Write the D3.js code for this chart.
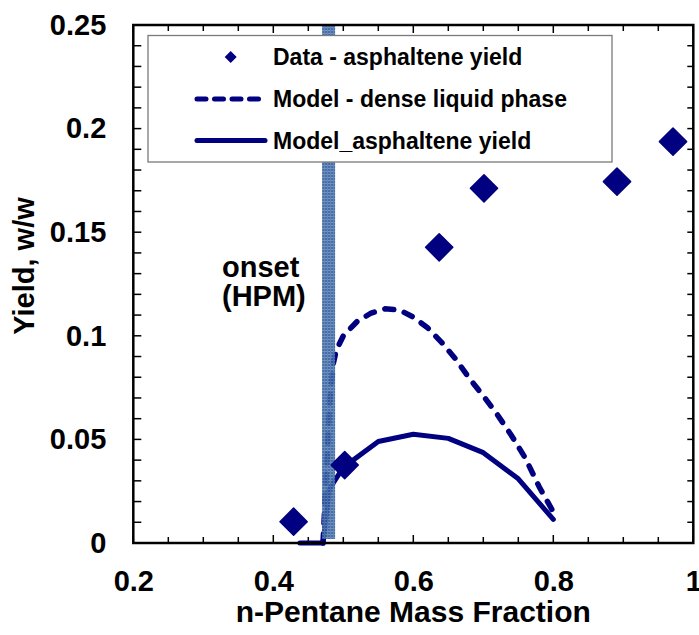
<!DOCTYPE html>
<html>
<head>
<meta charset="utf-8">
<script src="https://cdn.jsdelivr.net/npm/d3@7"></script>
<style>
  html, body { margin: 0; padding: 0; background: #fff; }
  svg { display: block; font-family: "Liberation Sans", Arial, sans-serif; font-weight: bold; }
</style>
</head>
<body>
<svg id="chart" width="699" height="635"></svg>
<script>
// Measured asphaltene yields
const dataX = [0.429, 0.502, 0.637, 0.701, 0.891, 0.971];
const dataY = [0.0103, 0.0376, 0.1427, 0.1712, 0.1744, 0.1937];

// Model: asphaltene yield
const modelX = [0.438, 0.471, 0.48, 0.50, 0.55, 0.60, 0.65, 0.70, 0.75, 0.80];
const modelY = [0, 0, 0.026, 0.0365, 0.049, 0.0525, 0.0505, 0.0436, 0.031, 0.0114];

// Model: dense liquid phase
const denseX = [0.471, 0.476, 0.481, 0.486, 0.49, 0.50, 0.52, 0.54, 0.56, 0.58, 0.60, 0.62, 0.64, 0.66, 0.68, 0.70, 0.72, 0.74, 0.76, 0.78, 0.80];
const denseY = [0, 0.035, 0.07, 0.087, 0.093, 0.100, 0.107, 0.111, 0.113, 0.1125, 0.109, 0.104, 0.097, 0.089, 0.0795, 0.071, 0.062, 0.052, 0.041, 0.027, 0.015];

// Onset (HPM) marker position
const onsetX = 0.479;

// Axis ticks
const xMajor = [0.2, 0.4, 0.6, 0.8, 1.0];
const xLabels = ["0.2", "0.4", "0.6", "0.8", "1"];
const yMajor = [0, 0.05, 0.1, 0.15, 0.2, 0.25];
const yLabels = ["0", "0.05", "0.1", "0.15", "0.2", "0.25"];

const legendLabels = ["Data - asphaltene yield", "Model - dense liquid phase", "Model_asphaltene yield"];

const NAVY = "#000080";

const svg = d3.select("#chart");
const L = 133.3, R = 693.3, T = 25, B = 543;

const x = d3.scaleLinear().domain([0.2, 1]).range([L, R]);
const y = d3.scaleLinear().domain([0, 0.25]).range([B, T]);

const xMinor = d3.range(0.2, 1.0001, 0.05).map(v => +v.toFixed(2));
const yMinor = d3.range(0, 0.2501, 0.01).map(v => +v.toFixed(2));

// Onset bar pattern
const defs = svg.append("defs");
const pat = defs.append("pattern")
  .attr("id", "onsetFill").attr("patternUnits", "userSpaceOnUse")
  .attr("width", 3).attr("height", 3);
pat.append("rect").attr("width", 3).attr("height", 3).attr("fill", "#335f9c");
pat.append("rect").attr("width", 3).attr("height", 1).attr("fill", "#6488bb");
pat.append("rect").attr("width", 1).attr("height", 3).attr("fill", "#5179b1");

// Minor ticks (inward) on all four sides
const tickG = svg.append("g").attr("stroke", "#000").attr("stroke-width", 1.5);
xMinor.forEach(v => {
  const len = xMajor.some(m => Math.abs(m - v) < 1e-6) ? 8 : 6;
  tickG.append("line").attr("x1", x(v)).attr("x2", x(v)).attr("y1", B).attr("y2", B - len);
  tickG.append("line").attr("x1", x(v)).attr("x2", x(v)).attr("y1", T).attr("y2", T + len);
});
yMinor.forEach(v => {
  tickG.append("line").attr("x1", L).attr("x2", L + 8).attr("y1", y(v)).attr("y2", y(v));
  tickG.append("line").attr("x1", R).attr("x2", R - 6).attr("y1", y(v)).attr("y2", y(v));
});

// Axes with labels only
const xAxis = d3.axisBottom(x).tickValues(xMajor).tickSize(0).tickPadding(27)
  .tickFormat((d, i) => xLabels[i]);
const gx = svg.append("g").attr("transform", `translate(0,${B})`).call(xAxis);
gx.select(".domain").remove();
gx.selectAll("text").attr("font-size", 29).attr("font-family", "Liberation Sans, Arial, sans-serif")
  .attr("font-weight", "bold").attr("fill", "#000");

const yAxis = d3.axisLeft(y).tickValues(yMajor).tickSize(0).tickPadding(27)
  .tickFormat((d, i) => yLabels[i]);
const gy = svg.append("g").attr("transform", `translate(${L},0)`).call(yAxis);
gy.select(".domain").remove();
gy.selectAll("text").attr("font-size", 29).attr("font-family", "Liberation Sans, Arial, sans-serif")
  .attr("font-weight", "bold").attr("fill", "#000");

// Model curves
const line = (xs, ys) => d3.line().x((d, i) => x(xs[i])).y((d, i) => y(ys[i]))(xs);

svg.append("path").attr("d", line(modelX, modelY))
  .attr("fill", "none").attr("stroke", NAVY).attr("stroke-width", 5)
  .attr("stroke-linejoin", "round").attr("stroke-linecap", "round");

svg.append("path").attr("d", line(denseX, denseY))
  .attr("fill", "none").attr("stroke", NAVY).attr("stroke-width", 5.5)
  .attr("stroke-dasharray", "9,11").attr("stroke-linecap", "round");

// Onset bar
svg.append("rect")
  .attr("x", x(onsetX) - 6.5).attr("width", 13)
  .attr("y", y(0.25)).attr("height", y(0) - y(0.25) - 4)
  .attr("fill", "url(#onsetFill)").attr("opacity", 0.9);

// Data diamonds
const diamond = d3.symbol().type(d3.symbolSquare).size(370);
svg.append("g").selectAll("path").data(dataX).join("path")
  .attr("d", diamond)
  .attr("transform", (d, i) => `translate(${x(d)},${y(dataY[i])}) rotate(45)`)
  .attr("fill", NAVY).attr("stroke", NAVY).attr("stroke-width", 1.5).attr("stroke-linejoin", "round");

// Plot frame
svg.append("rect").attr("x", L).attr("y", T).attr("width", R - L).attr("height", B - T)
  .attr("fill", "none").attr("stroke", "#000").attr("stroke-width", 2.5);

// Onset annotation
const onsetText = svg.append("text").attr("font-size", 29).attr("fill", "#000");
onsetText.append("tspan").attr("x", 222).attr("y", 277).text("onset");
onsetText.append("tspan").attr("x", 222).attr("y", 306).text("(HPM)");

// Legend
const lg = svg.append("g");
lg.append("rect").attr("x", 148).attr("y", 35.5).attr("width", 464).attr("height", 126.5)
  .attr("fill", "#fff").attr("stroke", "#7a7a7a").attr("stroke-width", 1.3);
const rowY = [57, 99, 140.5];
lg.append("path").attr("d", d3.symbol().type(d3.symbolSquare).size(72))
  .attr("transform", `translate(230.7,${rowY[0]}) rotate(45)`).attr("fill", NAVY);
lg.append("line").attr("x1", 197).attr("x2", 265).attr("y1", rowY[1]).attr("y2", rowY[1])
  .attr("stroke", NAVY).attr("stroke-width", 5).attr("stroke-dasharray", "9,8.5").attr("stroke-linecap", "round");
lg.append("line").attr("x1", 197).attr("x2", 265).attr("y1", rowY[2]).attr("y2", rowY[2])
  .attr("stroke", NAVY).attr("stroke-width", 5).attr("stroke-linecap", "round");
legendLabels.forEach((t, i) => {
  lg.append("text").attr("x", 273).attr("y", rowY[i] + 8).attr("font-size", 23).attr("fill", "#000").text(t);
});

// Axis titles
svg.append("text").attr("x", (L + R) / 2).attr("y", 622).attr("text-anchor", "middle")
  .attr("font-size", 30).attr("fill", "#000").text("n-Pentane Mass Fraction");
svg.append("text").attr("transform", `translate(34,266) rotate(-90)`).attr("text-anchor", "middle")
  .attr("font-size", 29).attr("fill", "#000").text("Yield, w/w");
</script>
</body>
</html>
